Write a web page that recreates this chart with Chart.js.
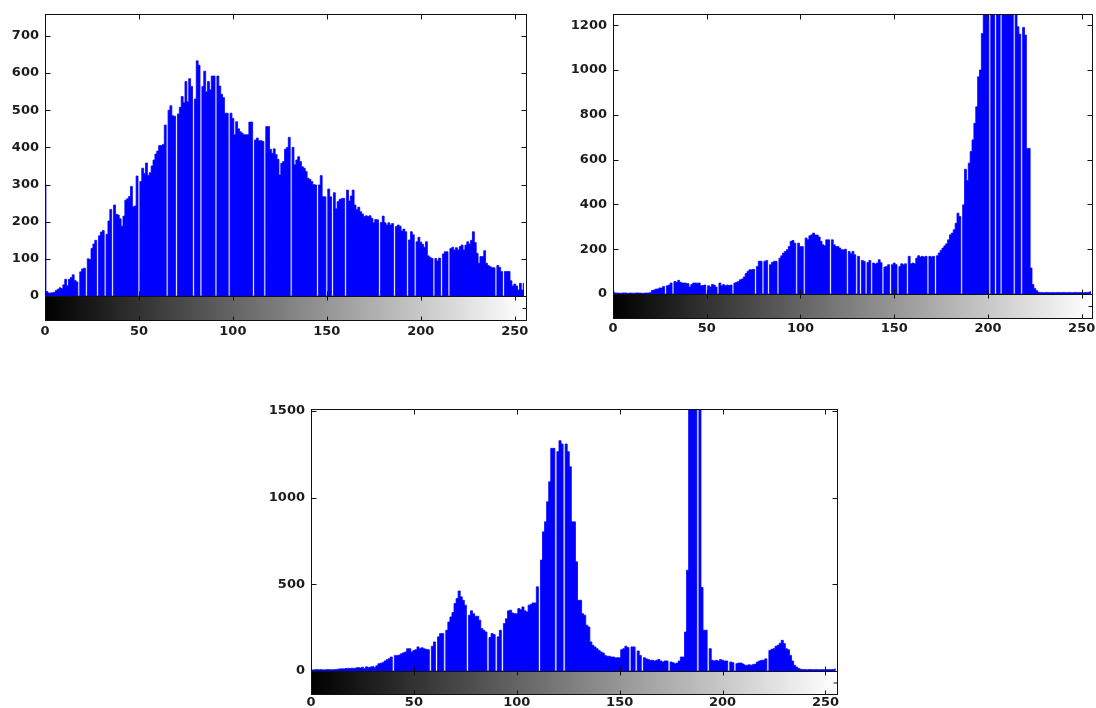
<!DOCTYPE html>
<html>
<head>
<meta charset="utf-8">
<script src="https://cdn.jsdelivr.net/npm/chart.js@4.4.1/dist/chart.umd.min.js"></script>
<style>
html, body { margin:0; padding:0; background:#fff; width:1096px; height:708px; overflow:hidden; }
.panel { position:absolute; }
.panel canvas { display:block; }
</style>
</head>
<body>
<div class="panel" style="left:0px;top:0px"><canvas id="hist1" width="545" height="345"></canvas></div>
<div class="panel" style="left:555px;top:0px"><canvas id="hist2" width="560" height="345"></canvas></div>
<div class="panel" style="left:260px;top:395px"><canvas id="hist3" width="600" height="330"></canvas></div>

<script>
// gray level ticks shared by the three histograms
var xTicks = [0, 50, 100, 150, 200, 250];
var yTicks1 = [0, 100, 200, 300, 400, 500, 600, 700];
var yTicks2 = [0, 200, 400, 600, 800, 1000, 1200];
var yTicks3 = [0, 500, 1000, 1500];

// pixel counts per gray level 0..255
var counts1 = [
 300, 12, 8, 8, 9, 10, 15, 18, 22, 20, 30, 45, 28, 45, 50, 57,
 42, 38, 0, 65, 73, 75, 0, 100, 98, 128, 140, 150, 0, 162, 172, 176,
 0, 166, 202, 233, 0, 245, 220, 218, 208, 188, 215, 258, 262, 268, 295, 240,
 242, 323, 0, 308, 344, 330, 358, 325, 332, 350, 366, 382, 390, 405, 405, 408,
 460, 0, 500, 512, 485, 484, 0, 490, 508, 537, 520, 577, 523, 585, 564, 0,
 530, 633, 621, 0, 564, 605, 550, 577, 555, 592, 592, 0, 592, 565, 543, 534,
 492, 492, 0, 492, 478, 434, 469, 450, 442, 438, 434, 434, 434, 468, 468, 0,
 420, 425, 418, 418, 416, 0, 456, 456, 395, 384, 396, 381, 368, 326, 357, 362,
 395, 400, 427, 0, 400, 353, 366, 375, 362, 348, 344, 335, 317, 314, 308, 300,
 299, 0, 299, 324, 267, 267, 0, 288, 267, 0, 278, 235, 254, 260, 262, 263,
 0, 285, 256, 269, 285, 245, 232, 239, 227, 221, 214, 216, 214, 216, 209, 197,
 206, 205, 0, 198, 215, 197, 191, 197, 191, 195, 0, 187, 191, 188, 175, 180,
 173, 0, 151, 173, 165, 0, 146, 158, 145, 139, 131, 146, 108, 104, 101, 0,
 101, 94, 102, 0, 113, 119, 119, 0, 128, 131, 124, 130, 124, 133, 137, 124,
 137, 146, 140, 150, 173, 144, 115, 88, 106, 106, 122, 88, 82, 79, 76, 76,
 0, 82, 77, 66, 0, 66, 66, 66, 41, 27, 32, 27, 16, 34, 16, 34
];
var counts2 = [
 15, 5, 4, 4, 3, 4, 5, 4, 3, 4, 4, 3, 4, 5, 4, 4,
 3, 4, 4, 5, 6, 16, 18, 22, 22, 27, 27, 34, 0, 37, 40, 49,
 0, 56, 52, 61, 52, 49, 49, 48, 46, 31, 42, 49, 49, 48, 49, 37,
 38, 40, 0, 37, 31, 42, 40, 31, 0, 49, 37, 42, 37, 40, 38, 40,
 0, 49, 52, 56, 64, 67, 76, 91, 101, 108, 108, 110, 0, 123, 146, 146,
 0, 146, 149, 0, 131, 141, 146, 146, 0, 160, 171, 183, 190, 198, 212, 235,
 239, 227, 0, 227, 212, 212, 0, 250, 242, 260, 264, 272, 263, 263, 254, 235,
 220, 215, 242, 242, 0, 242, 220, 212, 212, 205, 198, 198, 200, 0, 190, 180,
 190, 175, 0, 168, 0, 150, 146, 0, 141, 150, 0, 138, 134, 138, 153, 140,
 0, 120, 123, 131, 0, 131, 138, 131, 0, 123, 135, 131, 135, 0, 168, 135,
 138, 135, 160, 171, 165, 168, 165, 168, 0, 168, 165, 168, 0, 171, 183, 195,
 205, 215, 224, 242, 264, 272, 287, 316, 361, 346, 0, 398, 557, 507, 584, 636,
 688, 762, 836, 970, 1000, 1163, 1300, 1400, 1500, 0, 1600, 1600, 0, 1600, 1600, 0,
 1700, 1700, 1700, 1700, 1700, 1600, 0, 1400, 1193, 1160, 0, 1190, 1156, 650, 650, 116,
 42, 25, 15, 8, 7, 7, 6, 7, 7, 6, 7, 7, 6, 7, 7, 6,
 7, 7, 6, 7, 7, 6, 7, 7, 6, 7, 7, 6, 7, 7, 8, 10
];
var counts3 = [
 8, 6, 7, 8, 7, 8, 6, 7, 8, 8, 7, 8, 9, 10, 12, 13,
 12, 14, 15, 14, 16, 15, 18, 20, 17, 22, 15, 24, 20, 23, 26, 20,
 30, 42, 45, 48, 58, 65, 71, 81, 0, 90, 90, 92, 100, 105, 110, 129,
 129, 110, 119, 123, 139, 129, 134, 128, 125, 123, 0, 143, 168, 0, 197, 216,
 216, 0, 235, 283, 312, 337, 389, 418, 462, 428, 408, 380, 0, 322, 347, 331,
 316, 316, 293, 245, 235, 225, 0, 193, 216, 210, 0, 197, 235, 0, 274, 302,
 347, 351, 335, 331, 331, 360, 354, 370, 347, 341, 380, 385, 393, 393, 486, 0,
 640, 803, 861, 977, 1092, 1285, 1285, 0, 1266, 1329, 1310, 0, 1310, 1266, 1179, 861,
 861, 630, 408, 408, 331, 322, 264, 254, 168, 148, 139, 129, 119, 110, 104, 90,
 85, 85, 81, 81, 77, 77, 77, 123, 129, 143, 135, 0, 139, 139, 0, 116,
 90, 0, 77, 70, 66, 62, 62, 58, 62, 66, 58, 52, 58, 58, 0, 52,
 48, 42, 46, 58, 81, 81, 225, 582, 1600, 1700, 1700, 1650, 0, 1600, 482, 235,
 235, 0, 129, 62, 58, 62, 58, 66, 62, 58, 58, 0, 52, 48, 0, 42,
 46, 46, 40, 33, 33, 36, 33, 38, 40, 52, 58, 62, 62, 70, 0, 119,
 125, 129, 143, 148, 160, 177, 158, 129, 123, 90, 58, 33, 23, 15, 10, 8,
 8, 7, 8, 8, 7, 8, 8, 7, 8, 8, 7, 8, 8, 8, 9, 12
];

// matlab style box, inward ticks and the gray colour bar under the bars
var matlabAxes = {
  id: 'matlabAxes',
  afterDraw: function (chart) {
    var ctx = chart.ctx, a = chart.chartArea;
    var xs = chart.scales.x, ys = chart.scales.y;
    var cb = chart.options.plugins.matlabAxes.barHeight;
    var l = Math.round(a.left) + 0.5, r = Math.round(a.right) + 0.5;
    var t = Math.round(a.top) + 0.5, b = Math.round(a.bottom) + 0.5;
    ctx.save();
    var g = ctx.createLinearGradient(xs.getPixelForValue(0), 0, xs.getPixelForValue(255), 0);
    g.addColorStop(0, '#000');
    g.addColorStop(1, '#fff');
    ctx.fillStyle = g;
    ctx.fillRect(l, b, r - l, cb);
    ctx.strokeStyle = '#111';
    ctx.lineWidth = 1;
    ctx.strokeRect(l, t, r - l, b - t);
    ctx.strokeRect(l, b, r - l, cb);
    ctx.beginPath();
    xs.ticks.forEach(function (tk) {
      var px = Math.round(xs.getPixelForValue(tk.value)) + 0.5;
      ctx.moveTo(px, t); ctx.lineTo(px, t + 5);
      ctx.moveTo(px, b); ctx.lineTo(px, b - 5);
      ctx.moveTo(px, b); ctx.lineTo(px, b + 4);
      ctx.moveTo(px, b + cb); ctx.lineTo(px, b + cb - 4);
    });
    ys.ticks.forEach(function (tk) {
      var py = Math.round(ys.getPixelForValue(tk.value)) + 0.5;
      ctx.moveTo(l, py); ctx.lineTo(l + 5, py);
      ctx.moveTo(r, py); ctx.lineTo(r - 5, py);
    });
    ctx.moveTo(r, b + cb / 2); ctx.lineTo(r - 4, b + cb / 2);
    ctx.stroke();
    ctx.restore();
  }
};

var labelFont = { family: 'DejaVu Sans', size: 13, weight: 'bold' };

function histChart(id, counts, yTicks, yMax, xMax, axisW, axisH, padTop, padRight, cbGap, labelPad, barH) {
  return new Chart(document.getElementById(id), {
    type: 'line',
    data: {
      datasets: [{
        data: counts.map(function (v, i) { return { x: i, y: v }; }),
        stepped: 'middle',
        fill: 'origin',
        backgroundColor: '#0000ff',
        borderColor: '#0000ff',
        borderWidth: 0.8,
        pointRadius: 0,
        clip: 0
      }]
    },
    options: {
      responsive: false,
      animation: false,
      events: [],
      layout: { padding: { top: padTop, right: padRight, left: 0, bottom: 0 } },
      plugins: {
        legend: { display: false },
        tooltip: { enabled: false },
        matlabAxes: { barHeight: barH }
      },
      scales: {
        x: {
          type: 'linear', min: 0, max: xMax, offset: false,
          grid: { display: false, drawTicks: true, tickLength: cbGap },
          border: { display: false },
          afterBuildTicks: function (s) { s.ticks = xTicks.map(function (v) { return { value: v }; }); },
          afterFit: function (s) { s.height = axisH; },
          ticks: { padding: labelPad, color: '#1c1c1c', font: labelFont, maxRotation: 0, autoSkip: false,
                   callback: function (v) { return String(v); } }
        },
        y: {
          min: 0, max: yMax,
          grid: { display: false, drawTicks: false },
          border: { display: false },
          afterBuildTicks: function (s) { s.ticks = yTicks.map(function (v) { return { value: v }; }); },
          afterFit: function (s) { s.width = axisW; },
          ticks: { padding: 6, color: '#1c1c1c', font: labelFont,
                   callback: function (v) { return String(v); } }
        }
      }
    },
    plugins: [matlabAxes]
  });
}

histChart('hist1', counts1, yTicks1, 759, 256, 45, 49, 14, 19, 24, 4, 24);
histChart('hist2', counts2, yTicks2, 1250, 255.5, 58, 51, 14, 23, 24, 3, 24);
histChart('hist3', counts3, yTicks3, 1512, 255.6, 51, 54, 14, 23, 23, 1, 23);
</script>
</body>
</html>
